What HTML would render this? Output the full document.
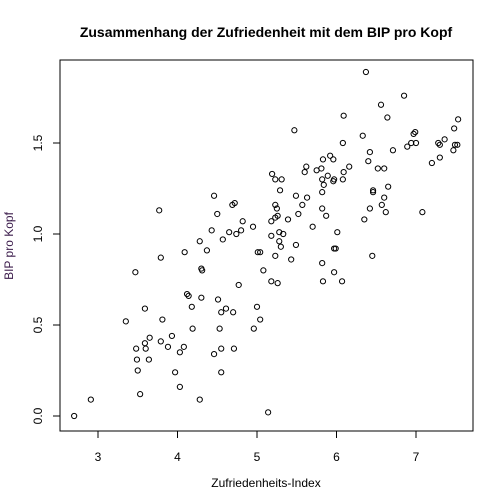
<!DOCTYPE html>
<html><head><meta charset="utf-8"><style>
body{margin:0;background:#fff}
svg{display:block;font-family:"Liberation Sans",Arial,sans-serif}
</style></head><body>
<svg id="chart" width="504" height="504" viewBox="0 0 504 504">
<text x="266" y="37" text-anchor="middle" font-size="14" font-weight="bold">Zusammenhang der Zufriedenheit mit dem BIP pro Kopf</text>
<rect x="60" y="60" width="413" height="371" fill="none" stroke="#000" stroke-width="1"/>
<text x="266" y="487" text-anchor="middle" font-size="12">Zufriedenheits-Index</text>
<text transform="translate(13,246) rotate(-90)" text-anchor="middle" font-size="12" fill="#3a1a4a">BIP pro Kopf</text>
<g id="axes"></g>
<g id="points"></g>
</svg>
<script>
const xTicks=[3,4,5,6,7];
const yTicks=[0,0.5,1.0,1.5];
const yTickLabels=["0.0","0.5","1.0","1.5"];
const happiness=[2.70,2.91,3.53,4.28,4.03,3.97,4.55,3.50,3.49,3.64,3.48,3.60,3.59,3.65,3.79,3.88,3.93,4.08,4.03,4.46,4.55,4.71,3.35,3.81,4.19,4.53,4.96,5.04,3.59,4.18,4.55,4.61,4.70,5.00,4.12,4.14,4.30,4.51,4.77,3.47,4.30,4.31,5.08,3.79,4.09,4.37,5.01,4.28,4.57,5.14,
4.46,3.77,4.69,4.72,4.50,4.82,4.95,4.43,4.65,4.74,4.80,
6.37,6.85,6.56,6.09,6.64,7.53,5.47,6.33,7.48,6.99,6.97,6.08,6.89,6.94,7.00,7.28,7.30,7.36,7.49,7.52,7.47,7.30,7.20,6.71,6.42,6.40,6.52,6.60,6.16,6.09,6.08,5.92,5.96,5.83,5.62,5.60,5.75,5.81,5.89,5.82,5.84,5.96,5.97,5.19,5.23,5.31,5.29,5.49,5.63,5.57,5.82,5.82,5.87,5.52,5.39,5.70,6.01,5.23,5.25,5.26,5.23,5.18,5.18,5.28,5.33,5.28,5.30,5.49,5.97,5.99,6.46,6.46,6.65,6.60,6.57,6.42,6.62,6.35,7.08,
5.04,5.23,5.43,5.82,6.45,5.97,5.18,5.26,5.83,6.07];
const gdp=[0.00,0.09,0.12,0.09,0.16,0.24,0.24,0.25,0.31,0.31,0.37,0.37,0.40,0.43,0.41,0.38,0.44,0.38,0.35,0.34,0.37,0.37,0.52,0.53,0.48,0.48,0.48,0.53,0.59,0.60,0.57,0.59,0.57,0.60,0.67,0.66,0.65,0.64,0.72,0.79,0.81,0.80,0.80,0.87,0.90,0.91,0.90,0.96,0.97,0.02,
1.21,1.13,1.16,1.17,1.11,1.07,1.04,1.02,1.01,1.00,1.02,
1.89,1.76,1.71,1.65,1.64,1.63,1.57,1.54,1.58,1.56,1.55,1.50,1.48,1.50,1.50,1.50,1.49,1.52,1.49,1.49,1.46,1.42,1.39,1.46,1.45,1.40,1.36,1.36,1.37,1.34,1.30,1.43,1.41,1.41,1.37,1.34,1.35,1.36,1.32,1.30,1.27,1.29,1.30,1.33,1.30,1.30,1.24,1.21,1.20,1.16,1.23,1.14,1.10,1.11,1.08,1.04,1.01,1.16,1.14,1.10,1.09,1.07,0.99,1.01,1.00,0.96,0.93,0.94,0.92,0.92,1.24,1.23,1.26,1.20,1.16,1.14,1.12,1.08,1.12,
0.90,0.88,0.86,0.84,0.88,0.79,0.74,0.73,0.74,0.74];
const NS="http://www.w3.org/2000/svg";
function sx(v){return 98+(v-3)*79.5;}
function sy(v){return 416-v*182;}
const axes=document.getElementById('axes');
xTicks.forEach(t=>{
  const l=document.createElementNS(NS,'line');
  
  
  l.setAttribute('x1',sx(t));l.setAttribute('x2',sx(t));l.setAttribute('y1',431);l.setAttribute('y2',438);l.setAttribute('stroke','#000');
  axes.appendChild(l);
  const tx=document.createElementNS(NS,'text');
  
  
  tx.setAttribute('x',sx(t));tx.setAttribute('y',461);tx.setAttribute('text-anchor','middle');tx.setAttribute('font-size','12');
  tx.textContent=t;axes.appendChild(tx);
});
yTicks.forEach((t,i)=>{
  const l=document.createElementNS(NS,'line');
  
  
  l.setAttribute('x1',53);l.setAttribute('x2',60);l.setAttribute('y1',sy(t));l.setAttribute('y2',sy(t));l.setAttribute('stroke','#000');
  axes.appendChild(l);
  const tx=document.createElementNS(NS,'text');
  
  
  tx.setAttribute('transform','translate(42,'+sy(t)+') rotate(-90)');tx.setAttribute('text-anchor','middle');tx.setAttribute('font-size','12');
  tx.textContent=yTickLabels[i];axes.appendChild(tx);
});
const pts=document.getElementById('points');
happiness.forEach((h,i)=>{
  const c=document.createElementNS(NS,'circle');
  
  
  c.setAttribute('cx',sx(h));c.setAttribute('cy',sy(gdp[i]));c.setAttribute('r',2.6);
  c.setAttribute('fill','none');c.setAttribute('stroke','#000');c.setAttribute('stroke-width','1');
  pts.appendChild(c);
});
</script>
</body></html>
